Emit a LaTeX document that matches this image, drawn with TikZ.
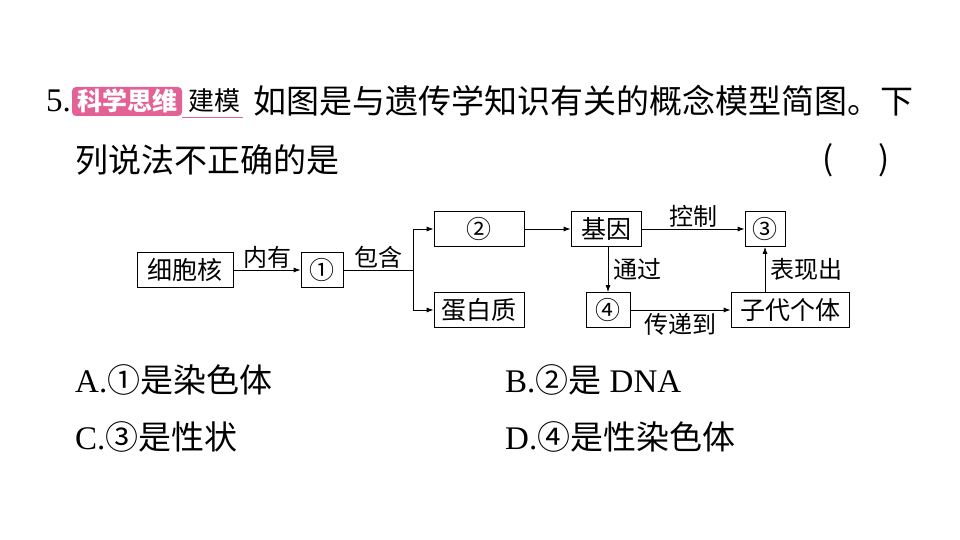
\documentclass[tikz,border=0pt]{standalone}
\usepackage{fontspec}
\setmainfont{Liberation Serif}
\newfontfamily\cjk{Noto Sans CJK SC}
\usetikzlibrary{positioning,arrows.meta}
\definecolor{badgepink}{RGB}{226,98,150}
\tikzset{
  box/.style={draw,thick,minimum height=35pt,inner sep=2pt,font=\cjk\fontsize{25}{25}\selectfont},
  lbl/.style={font=\cjk\fontsize{24}{24}\selectfont,inner sep=1pt},
  txt/.style={anchor=west,inner sep=0pt,font=\fontsize{33}{33}\selectfont},
  arr/.style={thick,-{Latex[length=7pt,width=5pt]}}
}
\begin{document}
\begin{tikzpicture}[x=1pt,y=-1pt]
	\useasboundingbox (0,0) rectangle (960,540);
	% question text
	\node[txt] (num) at (46,101) {5.};
	\fill[badgepink,rounded corners=4pt] (72,87) rectangle (182,116);
	\node[txt,text=white,font=\fontsize{25}{25}\selectfont] (badge) at (77,101) {\cjk\bfseries 科学思维};
	\node[txt,font=\fontsize{26}{26}\selectfont] (model) at (188,101) {\cjk 建模};
	\draw[badgepink,thick] (182,117) -- (243,117);
	\node[txt] (line1) at (253,101) {\cjk 如图是与遗传学知识有关的概念模型简图。下};
	\node[txt] (line2) at (75,160) {\cjk 列说法不正确的是};
	\node[txt] (paren) at (822,160) {\cjk (\hspace{45pt})};
	% diagram
	\node[box,minimum width=96pt] (nucleus) at (185,270) {细胞核};
	\node[box,minimum width=42pt] (c1) at (322,270) {①};
	\node[box,minimum width=90pt] (c2) at (479,229) {②};
	\node[box,minimum width=90pt] (protein) at (479,310) {蛋白质};
	\node[box,minimum width=70pt] (gene) at (606,229) {基因};
	\node[box,minimum width=40pt] (c3) at (765,229) {③};
	\node[box,minimum width=44pt] (c4) at (608,310) {④};
	\node[box,minimum width=118pt] (child) at (790,310) {子代个体};
	\coordinate (fork) at (413,270);
	\draw[arr] (nucleus) -- node[lbl,above] {内有} (c1);
	\draw[thick] (c1) -- node[lbl,above] {包含} (fork);
	\draw[arr] (fork) |- (c2);
	\draw[arr] (fork) |- (protein);
	\draw[arr] (c2) -- (gene);
	\draw[arr] (gene) -- node[lbl,above] {控制} (c3);
	\draw[arr] (gene.south -| c4) -- node[lbl,right=4pt] {通过} (c4);
	\draw[arr] (c4) -- node[lbl,below=2pt] {传递到} (child);
	\draw[arr] (child.north -| c3) -- node[lbl,right=4pt] {表现出} (c3);
	% options
	\node[txt] (optA) at (75,380) {A.{\cjk ①是染色体}};
	\node[txt] (optB) at (505,380) {B.{\cjk ②是} DNA};
	\node[txt] (optC) at (75,437) {C.{\cjk ③是性状}};
	\node[txt] (optD) at (505,437) {D.{\cjk ④是性染色体}};
\end{tikzpicture}
\end{document}
